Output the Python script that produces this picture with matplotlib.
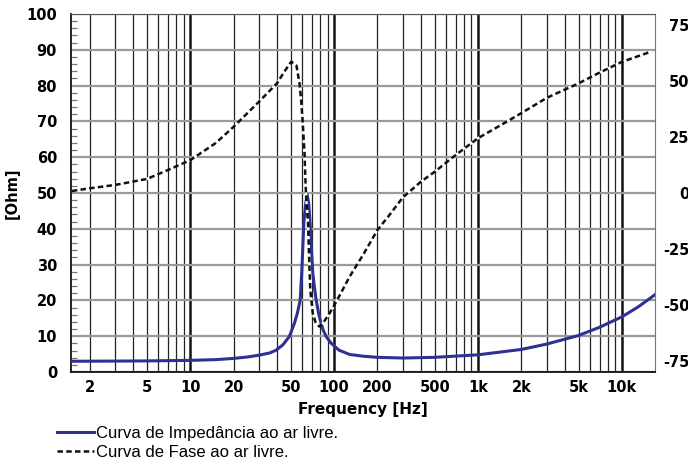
import numpy as np
import matplotlib
matplotlib.use("Agg")
import matplotlib.pyplot as plt
from matplotlib.ticker import LogLocator, FuncFormatter, MultipleLocator, FixedLocator

plt.rcParams["axes.unicode_minus"] = False

# impedance curve [Hz, Ohm]
imp_freq = [1.5, 3, 5, 10, 15, 20, 25, 30, 35.5, 39.5, 44, 48.8, 53, 55.5, 58,
            59.5, 61.5, 63.3, 65, 66.5, 68, 69.5, 71, 73, 75, 78, 81, 84, 88,
            95, 108, 128, 160, 200, 300, 500, 1000, 2000, 3000, 5000, 7000,
            10000, 13000, 17000]
imp_ohm = [3.0, 3.05, 3.1, 3.25, 3.45, 3.8, 4.2, 4.7, 5.3, 6.1, 7.6, 9.9, 13.7, 16.5, 20,
           27.7, 41.6, 47.0, 49.5, 47.0, 41.6, 34.0, 27.7, 23.5, 20, 16.3, 13.7, 11.6, 9.9,
           8.1, 6.1, 4.9, 4.4, 4.1, 3.9, 4.1, 4.8, 6.3, 7.8, 10.2, 12.5,
           15.4, 18.2, 21.6]

# phase curve [Hz, deg]
ph_freq = [1.5, 2, 3, 5, 7, 10, 15, 20, 30, 40, 45, 50.3, 54.7, 57.4, 58.9,
           60.5, 62.2, 63.1, 63.8, 65.8, 66.9, 68.2, 71, 74.6, 79, 83.3, 92.8,
           103.4, 128, 160, 200, 237, 300, 400, 500, 700, 1000, 1500, 2000,
           3000, 5000, 7000, 10000, 16000]
ph_deg = [0.9, 2.1, 3.6, 6.3, 10.3, 14.7, 22.3, 29.6, 40.8, 49.0, 54.2, 58.7, 56.9, 49.0, 41.6,
          31.1, 17.7, 5.8, -1.6, -13.5, -28.5, -43.4, -53.8, -58.3, -59.7, -58.3, -53.8,
          -48.6, -37.4, -27.3, -16.5, -10.6, -2.0, 5.0, 9.5, 17.0, 24.5, 31.0, 35.7,
          42.5, 49.0, 53.8, 58.6, 63.2]

major_freqs = [10, 100, 1000, 10000]
labels_major = {10: "10", 100: "100", 1000: "1k", 10000: "10k"}
labels_minor = {2: "2", 5: "5", 20: "20", 50: "50", 200: "200", 500: "500",
                2000: "2k", 5000: "5k"}
ohm_ticks = list(range(0, 101, 10))
deg_ticks = [-75, -50, -25, 0, 25, 50, 75]

blue = "#2e3192"
tick_font = dict(family="DejaVu Sans", weight="bold", size=10.5)

fig = plt.figure(figsize=(6.88, 4.61), dpi=100)
ax = fig.add_axes([71 / 688, 89 / 461, 584 / 688, 358 / 461])

ax.set_xscale("log")
ax.set_xlim(1.48, 17000)
ax.set_ylim(0, 100)

# vertical grid
ax.xaxis.set_major_locator(FixedLocator(major_freqs))
ax.xaxis.set_minor_locator(LogLocator(base=10, subs=np.arange(2, 10), numticks=20))
ax.xaxis.set_major_formatter(FuncFormatter(lambda v, p: labels_major.get(int(round(v)), "")))
ax.xaxis.set_minor_formatter(FuncFormatter(lambda v, p: labels_minor.get(int(round(v)), "")))
ax.grid(True, which="major", axis="x", color="#111111", lw=1.8)
ax.grid(True, which="minor", axis="x", color="#222222", lw=0.9)
ax.tick_params(axis="x", which="both", length=0, pad=6)

# horizontal grid
ax.set_yticks(ohm_ticks)
ax.yaxis.set_minor_locator(MultipleLocator(2))
ax.grid(True, which="major", axis="y", color="#9a9a9a", lw=1.6)
ax.tick_params(axis="y", which="major", length=0, pad=10)
ax.tick_params(axis="y", which="minor", direction="in", length=4.5, width=0.9, color="#777777")
ax.set_axisbelow(True)

for lbl in ax.get_xticklabels(which="both") + ax.get_yticklabels():
    lbl.set_fontproperties(matplotlib.font_manager.FontProperties(**tick_font))

ax.spines["left"].set_color("#111111")
ax.spines["left"].set_linewidth(1.3)
ax.spines["bottom"].set_color("#111111")
ax.spines["bottom"].set_linewidth(1.3)
ax.spines["top"].set_color("#555555")
ax.spines["right"].set_color("#777777")

ax.plot(imp_freq, imp_ohm, color=blue, lw=2.2, zorder=3,
        label="Curva de Impedância ao ar livre.")

ax.set_ylabel("[Ohm]", family="DejaVu Sans", weight="bold", fontsize=10.5, labelpad=5)
ax.set_xlabel("Frequency [Hz]", family="DejaVu Sans", weight="bold", fontsize=11, labelpad=5)

# phase on the right axis
ax2 = ax.twinx()
ax2.set_ylim(-80, 80)
ax2.set_yticks(deg_ticks)
ax2.tick_params(axis="y", length=0, pad=25)
for lbl in ax2.get_yticklabels():
    lbl.set_fontproperties(matplotlib.font_manager.FontProperties(**tick_font))
    lbl.set_horizontalalignment("right")
for s in ax2.spines.values():
    s.set_visible(False)

ax2.plot(ph_freq, ph_deg, color="#111111", lw=1.8, dashes=(2.2, 1.3), gapcolor="white",
         zorder=3, label="Curva de Fase ao ar livre.")

h1, l1 = ax.get_legend_handles_labels()
h2, l2 = ax2.get_legend_handles_labels()
fig.legend(h1 + h2, l1 + l2, loc="upper left", bbox_to_anchor=(57 / 688, 1 - 426 / 461),
           frameon=False, prop=dict(family="Liberation Sans", size=12),
           handlelength=2.2, handletextpad=0.15, labelspacing=0.25, borderpad=0,
           borderaxespad=0)

fig.savefig("out.png", dpi=100)
